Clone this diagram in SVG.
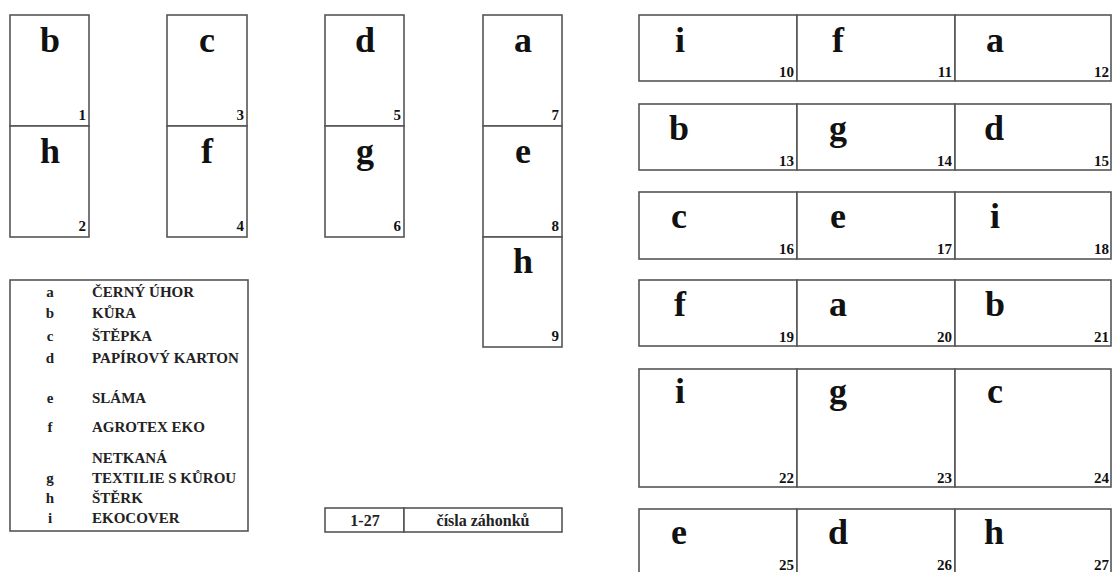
<svg xmlns="http://www.w3.org/2000/svg" width="1112" height="572" viewBox="0 0 1112 572">
<style>
.cell{fill:#fff;stroke:#555;stroke-width:1.6}
.big{font-family:"Liberation Serif","Times New Roman",serif;font-weight:bold;font-size:36px;fill:#111;text-anchor:middle}
.num{font-family:"Liberation Serif","Times New Roman",serif;font-weight:bold;font-size:15px;fill:#111;text-anchor:end}
.leg{font-family:"Liberation Serif","Times New Roman",serif;font-weight:bold;font-size:15px;fill:#222}
.legc{font-family:"Liberation Serif","Times New Roman",serif;font-weight:bold;font-size:15px;fill:#222;text-anchor:middle}
.key{font-family:"Liberation Serif","Times New Roman",serif;font-weight:bold;font-size:16px;fill:#222;text-anchor:middle}
</style>
<rect width="1112" height="572" fill="#fff"/>
<!-- left vertical strips -->
<g id="bed1"><rect class="cell" x="10" y="15" width="79" height="111"/><text class="big" x="50" y="52">b</text><text class="num" x="86" y="120">1</text></g>
<g id="bed2"><rect class="cell" x="10" y="126" width="79" height="111"/><text class="big" x="50" y="163">h</text><text class="num" x="86" y="231">2</text></g>
<g id="bed3"><rect class="cell" x="167" y="15" width="80" height="111"/><text class="big" x="207" y="52">c</text><text class="num" x="244" y="120">3</text></g>
<g id="bed4"><rect class="cell" x="167" y="126" width="80" height="111"/><text class="big" x="207" y="163">f</text><text class="num" x="244" y="231">4</text></g>
<g id="bed5"><rect class="cell" x="325" y="15" width="79" height="111"/><text class="big" x="365" y="52">d</text><text class="num" x="401" y="120">5</text></g>
<g id="bed6"><rect class="cell" x="325" y="126" width="79" height="111"/><text class="big" x="365" y="163">g</text><text class="num" x="401" y="231">6</text></g>
<g id="bed7"><rect class="cell" x="483" y="15" width="79" height="111"/><text class="big" x="523" y="52">a</text><text class="num" x="559" y="120">7</text></g>
<g id="bed8"><rect class="cell" x="483" y="126" width="79" height="111"/><text class="big" x="523" y="163">e</text><text class="num" x="559" y="231">8</text></g>
<g id="bed9"><rect class="cell" x="483" y="237" width="79" height="110"/><text class="big" x="523" y="273">h</text><text class="num" x="559" y="341">9</text></g>
<!-- right grid -->
<g id="bed10"><rect class="cell" x="639" y="15" width="158" height="66"/><text class="big" x="680" y="52">i</text><text class="num" x="794" y="77">10</text></g>
<g id="bed11"><rect class="cell" x="797" y="15" width="158" height="66"/><text class="big" x="838" y="52">f</text><text class="num" x="952" y="77">11</text></g>
<g id="bed12"><rect class="cell" x="955" y="15" width="156" height="66"/><text class="big" x="995" y="52">a</text><text class="num" x="1109" y="77">12</text></g>
<g id="bed13"><rect class="cell" x="639" y="104" width="158" height="66"/><text class="big" x="679" y="140">b</text><text class="num" x="794" y="166">13</text></g>
<g id="bed14"><rect class="cell" x="797" y="104" width="158" height="66"/><text class="big" x="838" y="140">g</text><text class="num" x="952" y="166">14</text></g>
<g id="bed15"><rect class="cell" x="955" y="104" width="156" height="66"/><text class="big" x="994" y="140">d</text><text class="num" x="1109" y="166">15</text></g>
<g id="bed16"><rect class="cell" x="639" y="192" width="158" height="67"/><text class="big" x="679" y="228">c</text><text class="num" x="794" y="254">16</text></g>
<g id="bed17"><rect class="cell" x="797" y="192" width="158" height="67"/><text class="big" x="838" y="228">e</text><text class="num" x="952" y="254">17</text></g>
<g id="bed18"><rect class="cell" x="955" y="192" width="156" height="67"/><text class="big" x="995" y="228">i</text><text class="num" x="1109" y="254">18</text></g>
<g id="bed19"><rect class="cell" x="639" y="280" width="158" height="66"/><text class="big" x="680" y="316">f</text><text class="num" x="794" y="342">19</text></g>
<g id="bed20"><rect class="cell" x="797" y="280" width="158" height="66"/><text class="big" x="838" y="316">a</text><text class="num" x="952" y="342">20</text></g>
<g id="bed21"><rect class="cell" x="955" y="280" width="156" height="66"/><text class="big" x="995" y="316">b</text><text class="num" x="1109" y="342">21</text></g>
<g id="bed22"><rect class="cell" x="639" y="369" width="158" height="118"/><text class="big" x="680" y="403">i</text><text class="num" x="794" y="483">22</text></g>
<g id="bed23"><rect class="cell" x="797" y="369" width="158" height="118"/><text class="big" x="838" y="403">g</text><text class="num" x="952" y="483">23</text></g>
<g id="bed24"><rect class="cell" x="955" y="369" width="156" height="118"/><text class="big" x="995" y="403">c</text><text class="num" x="1109" y="483">24</text></g>
<g id="bed25"><rect class="cell" x="639" y="509" width="158" height="68"/><text class="big" x="679" y="544">e</text><text class="num" x="794" y="570">25</text></g>
<g id="bed26"><rect class="cell" x="797" y="509" width="158" height="68"/><text class="big" x="838" y="544">d</text><text class="num" x="952" y="570">26</text></g>
<g id="bed27"><rect class="cell" x="955" y="509" width="156" height="68"/><text class="big" x="994" y="544">h</text><text class="num" x="1109" y="570">27</text></g>
<!-- legend -->
<g id="legend">
<rect class="cell" x="10" y="280" width="238" height="251"/>
<text class="legc" x="50" y="297">a</text><text class="leg" x="92" y="297">ČERNÝ ÚHOR</text>
<text class="legc" x="50" y="318">b</text><text class="leg" x="92" y="318">KŮRA</text>
<text class="legc" x="50" y="341">c</text><text class="leg" x="92" y="341">ŠTĚPKA</text>
<text class="legc" x="50" y="363">d</text><text class="leg" x="92" y="363">PAPÍROVÝ KARTON</text>
<text class="legc" x="50" y="403">e</text><text class="leg" x="92" y="403">SLÁMA</text>
<text class="legc" x="50" y="432">f</text><text class="leg" x="92" y="432">AGROTEX EKO</text>
<text class="leg" x="92" y="463">NETKANÁ</text>
<text class="legc" x="50" y="483">g</text><text class="leg" x="92" y="483">TEXTILIE S KŮROU</text>
<text class="legc" x="50" y="503">h</text><text class="leg" x="92" y="503">ŠTĚRK</text>
<text class="legc" x="50" y="523">i</text><text class="leg" x="92" y="523">EKOCOVER</text>
</g>
<g id="key">
<rect class="cell" x="325" y="508" width="79" height="24"/>
<rect class="cell" x="404" y="508" width="158" height="24"/>
<text class="key" x="365" y="526">1-27</text>
<text class="key" x="483" y="526">čísla záhonků</text>
</g>
</svg>
